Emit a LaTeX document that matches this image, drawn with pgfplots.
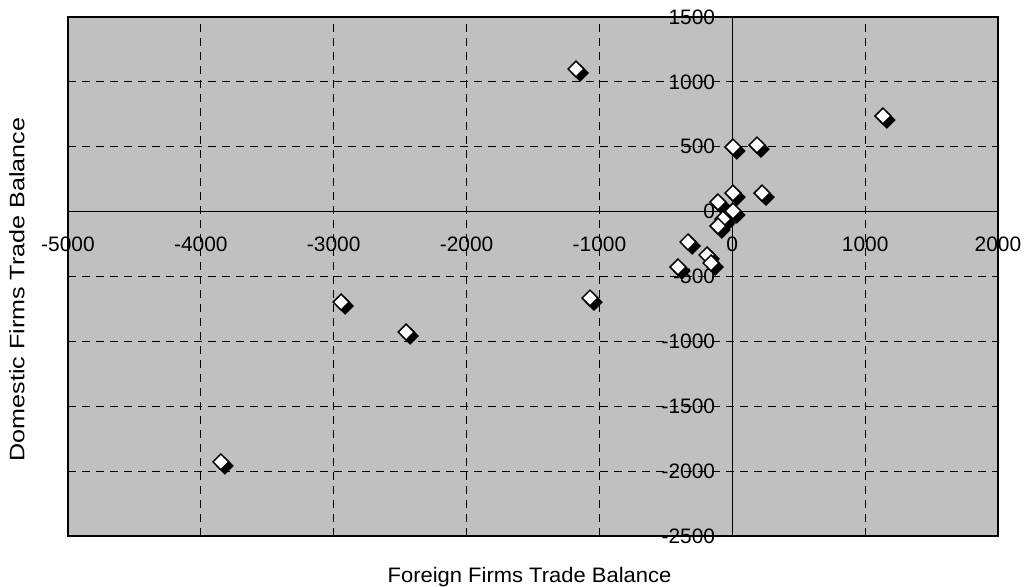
\documentclass[border=0pt]{standalone}
\usepackage{pgfplots}
\pgfplotsset{compat=1.18}
\usepackage{pgfplotstable}
\usepackage{fontspec}
\setmainfont{Liberation Sans}
\definecolor{bg}{RGB}{192,192,192}
\pgfplotstableread{
x y
-1176 1099
1134 737
5 498
186 513
224 143
5 143
-108 74
5 5
-70 -57
-108 -111
-333 -234
-190 -334
-160 -396
-409 -427
-1071 -666
-2944 -697
-2455 -928
-3849 -1929
}\pts
\begin{document}
\begin{tikzpicture}
\begin{axis}[
 scale only axis, width=930bp, height=519bp,
 xmin=-5000, xmax=2000, ymin=-2500, ymax=1500,
 axis lines=middle, axis line style={black, line width=0.9bp, -},
 axis background/.style={fill=bg},
 xtick={-5000,-4000,...,2000}, ytick={-2500,-2000,...,1500},
 hide obscured x ticks=false, hide obscured y ticks=false,
 major tick length=0,
 grid=major, grid style={black, line width=0.9bp, dash pattern=on 8bp off 6bp},
 tick label style={font=\fontsize{21}{25}\selectfont, inner sep=0pt},
 /pgf/number format/assume math mode=true,
 /pgf/number format/set thousands separator={},
 xticklabel style={anchor=center, yshift=-33bp},
 yticklabel style={anchor=east, xshift=-17bp},
 clip=false,
]
\draw[black, line width=2bp] (rel axis cs:0,0) rectangle (rel axis cs:1,1);
\addplot[only marks, mark=square*, mark size=6bp, mark options={fill=black, draw=black, xshift=4bp, yshift=-4bp, rotate=45}] table {\pts};
\addplot[only marks, mark=square*, mark size=5.6bp, mark options={fill=white, draw=black, line width=1.5bp, rotate=45}] table {\pts};
\coordinate (O) at (rel axis cs:0,0);
\node[font=\fontsize{21}{25}\selectfont] at (rel axis cs:0.5,0) [xshift=-3.5bp, yshift=-41bp] {\scalebox{1.05}[1]{Foreign Firms Trade Balance}};
\node[font=\fontsize{21}{25}\selectfont, xshift=-51bp, yshift=-13bp, rotate=90] at (rel axis cs:0,0.5) {\scalebox{1.2}[1]{Domestic Firms Trade Balance}};
\end{axis}
\pgfresetboundingbox
\path[use as bounding box] (O) ++(-68bp,-51bp) rectangle ++(1026bp,587bp);
\end{tikzpicture}
\end{document}
